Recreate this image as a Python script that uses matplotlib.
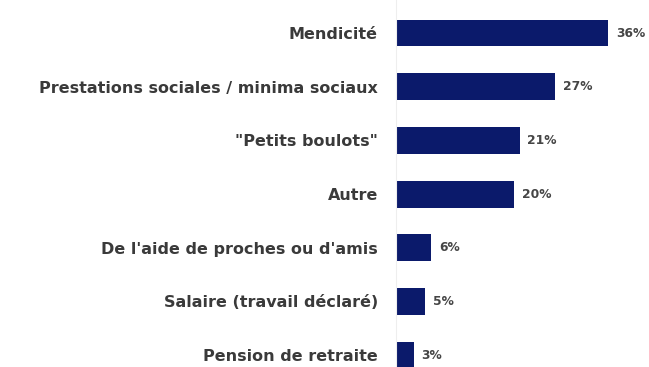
import numpy as np
import matplotlib
matplotlib.use("Agg")
import matplotlib.pyplot as plt

plt.rcParams["font.family"] = "DejaVu Sans"

# Sources de revenus déclarées (%)
categories = [
    "Mendicité",
    "Prestations sociales / minima sociaux",
    "\"Petits boulots\"",
    "Autre",
    "De l'aide de proches ou d'amis",
    "Salaire (travail déclaré)",
    "Pension de retraite",
]
values = [36, 27, 21, 20, 6, 5, 3]

bar_color = "#0b1a6b"
text_color = "#3a3a3a"

fig = plt.figure(figsize=(6.49, 3.67), dpi=100)
ax = fig.add_axes([396 / 649, 0, 250 / 649, 1])

y = np.arange(len(categories))
ax.barh(y, values, height=0.5, color=bar_color)

ax.set_xlim(0, 42.4)
ax.set_ylim(6.22, -0.615)

# percentages to the right of each bar
for yi, v in zip(y, values):
    ax.text(v + 1.3, yi, f"{v}%", va="center", ha="left",
            fontsize=8.8, fontweight="bold", color="#454545")

ax.set_yticks(y)
ax.set_yticklabels(categories, fontsize=11.5, fontweight="bold", color=text_color)
ax.tick_params(axis="y", length=0, pad=13)
ax.set_xticks([])

for side in ["top", "right", "bottom"]:
    ax.spines[side].set_visible(False)
ax.spines["left"].set_color("#eeeeee")
ax.spines["left"].set_linewidth(0.8)

fig.savefig("out.png", dpi=100)
